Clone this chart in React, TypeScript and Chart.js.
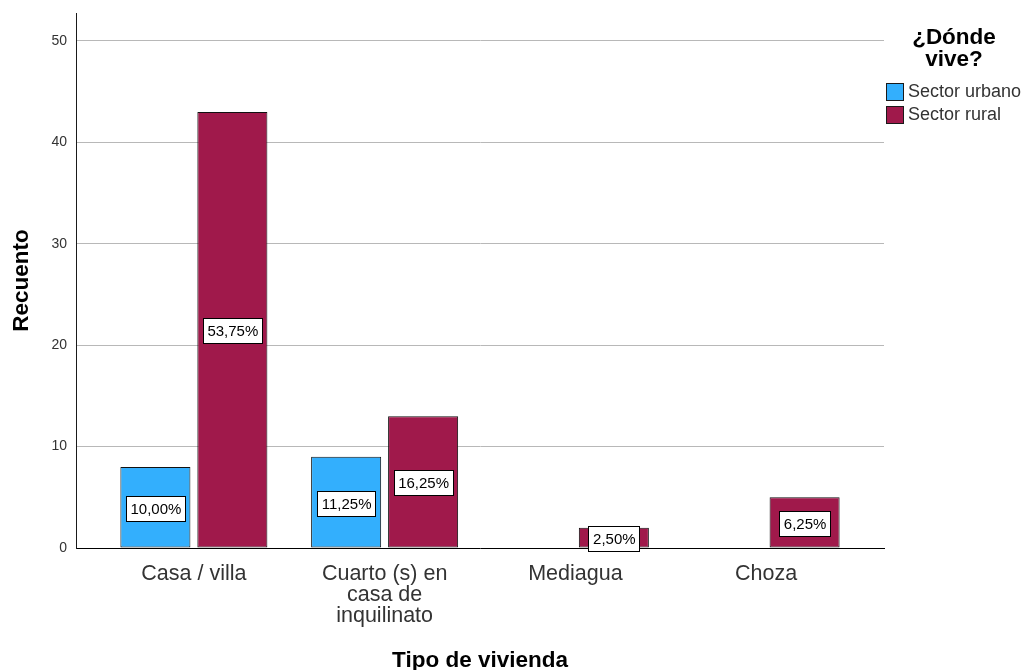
import React, { useEffect, useRef } from 'react';
import { Chart, registerables } from 'chart.js';

Chart.register(...registerables);

const categories: (string | string[])[] = [
  'Casa / villa',
  ['Cuarto (s) en', 'casa de', 'inquilinato'],
  'Mediagua',
  'Choza',
];
const categoryPositions = [0, 1, 2, 3];
const urbanoCounts: (number | null)[] = [8, 9, null, null];
const ruralCounts: (number | null)[] = [43, 13, 2, 5];
const seriesNames = ['Sector urbano', 'Sector rural'];
const seriesColors = ['#33affd', '#a0194b'];
const legendTitle = ['¿Dónde', 'vive?'];
const yTickValues = [0, 10, 20, 30, 40, 50];
const xTitle = 'Tipo de vivienda';
const yTitle = 'Recuento';

const FONT = '"Liberation Sans", Arial, sans-serif';

const total = [...urbanoCounts, ...ruralCounts].reduce<number>((s, v) => s + (v ?? 0), 0);
const pctLabel = (v: number) => ((v / total) * 100).toFixed(2).replace('.', ',') + '%';

const barLabelPlugin = {
  id: 'barLabels',
  afterDatasetsDraw(chart: any) {
    const ctx = chart.ctx as CanvasRenderingContext2D;
    ctx.save();
    ctx.font = `15px ${FONT}`;
    ctx.textAlign = 'center';
    ctx.textBaseline = 'middle';
    chart.data.datasets.forEach((ds: any, di: number) => {
      const meta = chart.getDatasetMeta(di);
      meta.data.forEach((el: any, i: number) => {
        const v = ds.data[i]?.y;
        if (v == null) return;
        const { x, y, base } = el.getProps(['x', 'y', 'base'], true);
        const cy = (y + base) / 2;
        const text = pctLabel(v);
        const w = Math.round(ctx.measureText(text).width + 8);
        const h = 25;
        const left = Math.round(x - w / 2);
        const top = Math.round(cy - h / 2 + 1);
        ctx.fillStyle = '#ffffff';
        ctx.fillRect(left, top, w, h);
        ctx.strokeStyle = '#000000';
        ctx.lineWidth = 1;
        ctx.strokeRect(left + 0.5, top + 0.5, w, h);
        ctx.fillStyle = '#000000';
        ctx.fillText(text, x + 0.5, top + h / 2 + 1);
      });
    });
    ctx.restore();
  },
};

const legendPlugin = {
  id: 'customLegend',
  afterDraw(chart: any) {
    const ctx = chart.ctx as CanvasRenderingContext2D;
    ctx.save();
    ctx.fillStyle = '#000000';
    ctx.font = `bold 22.5px ${FONT}`;
    ctx.textAlign = 'center';
    ctx.textBaseline = 'middle';
    legendTitle.forEach((t, i) => ctx.fillText(t, 954, 38 + i * 22));
    ctx.font = `18px ${FONT}`;
    ctx.textAlign = 'left';
    seriesNames.forEach((name, i) => {
      const top = 83 + i * 23;
      ctx.fillStyle = seriesColors[i];
      ctx.fillRect(886, top, 17, 17);
      ctx.strokeStyle = '#1a1a1a';
      ctx.lineWidth = 1;
      ctx.strokeRect(886.5, top + 0.5, 17, 17);
      ctx.fillStyle = '#333333';
      ctx.fillText(name, 908, top + 9.5);
    });
    ctx.restore();
  },
};

export default function App() {
  const canvasRef = useRef<HTMLCanvasElement | null>(null);

  useEffect(() => {
    if (!canvasRef.current) return;
    const makeData = (vals: (number | null)[]) =>
      categoryPositions.map((x, i) => ({ x, y: vals[i] }));
    const chart = new Chart(canvasRef.current, {
      type: 'bar',
      data: {
        datasets: [
          {
            label: seriesNames[0],
            data: makeData(urbanoCounts) as any,
            backgroundColor: seriesColors[0],
            borderColor: '#111111',
            borderWidth: 1,
            borderSkipped: false,
            inflateAmount: 0,
            categoryPercentage: 0.807,
            barPercentage: 0.91,
          },
          {
            label: seriesNames[1],
            data: makeData(ruralCounts) as any,
            backgroundColor: seriesColors[1],
            borderColor: '#111111',
            borderWidth: 1,
            borderSkipped: false,
            inflateAmount: 0,
            categoryPercentage: 0.807,
            barPercentage: 0.91,
          },
        ],
      },
      options: {
        responsive: false,
        animation: false,
        devicePixelRatio: 1,
        layout: { padding: { top: 13, right: 140, left: 0, bottom: 0 } },
        plugins: {
          legend: { display: false },
          tooltip: { enabled: false },
          title: { display: false },
        },
        scales: {
          x: {
            type: 'linear',
            offset: false,
            min: -0.618,
            max: 3.618,
            afterBuildTicks: (scale: any) => {
              scale.ticks = categoryPositions.map((v) => ({ value: v }));
            },
            afterFit: (scale: any) => {
              scale.height = 122;
              scale.paddingLeft = 0;
              scale.paddingRight = 0;
            },
            grid: { display: false, drawTicks: false, offset: false },
            border: { display: true, color: '#000000', width: 1 },
            ticks: {
              padding: 16,
              color: '#333333',
              font: { family: FONT, size: 21.5, lineHeight: 0.96 },
              autoSkip: false,
              maxRotation: 0,
              callback: (value: any) => categories[Number(value)] as any,
            },
            title: {
              display: true,
              text: xTitle,
              color: '#000000',
              font: { family: FONT, size: 22.5, weight: 'bold', lineHeight: 0.86 },
              padding: 0,
            },
          },
          y: {
            min: 0,
            max: 52.76,
            afterBuildTicks: (scale: any) => {
              scale.ticks = yTickValues.map((v) => ({ value: v }));
            },
            afterFit: (scale: any) => {
              scale.width = 76;
              scale.paddingTop = 0;
              scale.paddingBottom = 0;
            },
            grid: {
              drawTicks: false,
              color: (c: any) => (c.tick && c.tick.value === 0 ? 'rgba(0,0,0,0)' : '#b8b8b8'),
              lineWidth: 1,
            },
            border: { display: true, color: '#1a1a1a', width: 1 },
            ticks: {
              padding: 9,
              color: '#333333',
              font: { family: FONT, size: 14 },
            },
            title: {
              display: true,
              text: yTitle,
              color: '#000000',
              font: { family: FONT, size: 22.5, weight: 'bold', lineHeight: 1.2 },
              padding: { top: 8, bottom: 0 },
            },
          },
        },
      },
      plugins: [barLabelPlugin, legendPlugin],
    });
    return () => chart.destroy();
  }, []);

  return (
    <div style={{ position: 'absolute', left: 0, top: 0, width: 1024, height: 670, background: '#ffffff' }}>
      <canvas ref={canvasRef} width={1024} height={670} style={{ display: 'block' }} />
    </div>
  );
}
